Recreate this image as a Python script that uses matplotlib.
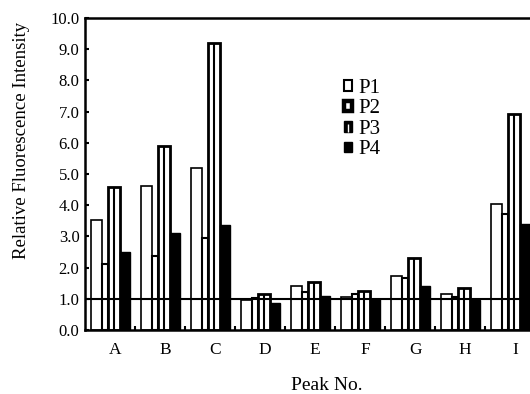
import matplotlib
matplotlib.use("Agg")
import matplotlib.pyplot as plt
import numpy as np
from matplotlib.patches import Patch
from matplotlib.lines import Line2D
from matplotlib.legend_handler import HandlerTuple

plt.rcParams['font.family'] = ['Liberation Serif', 'DejaVu Serif']

peaks = ['A', 'B', 'C', 'D', 'E', 'F', 'G', 'H', 'I']
series_names = ['P1', 'P2', 'P3', 'P4']
p1 = [3.53, 4.60, 5.19, 0.96, 1.41, 1.06, 1.73, 1.15, 4.04]
p2 = [2.12, 2.37, 2.95, 1.02, 1.22, 1.15, 1.66, 1.06, 3.72]
p3 = [4.57, 5.90, 9.20, 1.15, 1.54, 1.25, 2.30, 1.35, 6.92]
p4 = [2.50, 3.10, 3.37, 0.87, 1.09, 0.99, 1.41, 0.97, 3.40]
y_ticks = [0.0, 1.0, 2.0, 3.0, 4.0, 5.0, 6.0, 7.0, 8.0, 9.0, 10.0]
ref_level = 1.0

fig = plt.figure(figsize=(5.30, 3.94), dpi=100)
ax = fig.add_axes([85/530, 1 - 330/394, 450/530, 312/394])

x = np.arange(len(peaks))
left0 = -0.5
layout = [(0.12, 0.22), (0.34, 0.12), (0.46, 0.24), (0.70, 0.20)]

(l1, w1), (l2, w2), (l3, w3), (l4, w4) = layout
ax.bar(x + left0 + l1, p1, width=w1, align='edge', facecolor='white', edgecolor='black', linewidth=1.2, zorder=2)
ax.bar(x + left0 + l2, p2, width=w2, align='edge', facecolor='white', edgecolor='black', linewidth=1.5, zorder=2)
ax.bar(x + left0 + l3, p3, width=w3, align='edge', facecolor='white', edgecolor='black', linewidth=2.0, zorder=2)
ax.vlines(x + left0 + l3 + w3 / 2, 0, p3, colors='black', linewidth=1.5, zorder=3)
ax.bar(x + left0 + l4, p4, width=w4, align='edge', facecolor='black', edgecolor='black', linewidth=1.0, zorder=2)

ax.axhline(ref_level, color='black', linewidth=1.5, zorder=4)

ax.set_xlim(-0.5, len(peaks) - 0.5)
ax.set_ylim(0, 10)
ax.set_yticks(y_ticks)
ax.set_yticklabels([f'{v:.1f}' for v in y_ticks])
ax.set_xticks(x + 0.1)
ax.set_xticklabels(peaks)
ax.set_xticks(np.arange(len(peaks)) + 0.5, minor=True)
ax.tick_params(axis='x', which='major', length=0, pad=9, labelsize=12.5)
ax.tick_params(axis='x', which='minor', direction='in', length=3, width=1.5)
ax.tick_params(axis='y', direction='in', length=3, width=1.5, pad=4, labelsize=12)

for s in ['left', 'top', 'bottom']:
    ax.spines[s].set_linewidth(1.8)
ax.spines['right'].set_visible(False)

ax.set_ylabel('Relative Fluorescence Intensity', fontsize=13.5)
ax.yaxis.set_label_coords(-0.122, 0.609)
ax.set_xlabel('Peak No.', fontsize=14)
ax.xaxis.label.set_va('center')
ax.xaxis.set_label_coords(0.538, -0.178)

h1 = Patch(facecolor='white', edgecolor='black', linewidth=1.5)
h2 = Patch(facecolor='white', edgecolor='black', linewidth=3.2)
h3 = (Patch(facecolor='black', edgecolor='black', linewidth=1.0),
      Line2D([], [], linestyle='none', marker='|', markersize=6, markeredgewidth=1.0, color='white'))
h4 = Patch(facecolor='black', edgecolor='black', linewidth=1.0)
leg = ax.legend([h1, h2, h3, h4], series_names, loc='upper left', bbox_to_anchor=(344/530, 1 - 79/394),
                bbox_transform=fig.transFigure, frameon=False, fontsize=15,
                handlelength=0.4, handleheight=0.4, handletextpad=0.3,
                labelspacing=0.07, borderpad=0, borderaxespad=0,
                handler_map={tuple: HandlerTuple(ndivide=1, pad=0)})

fig.savefig('out.png', dpi=100)
